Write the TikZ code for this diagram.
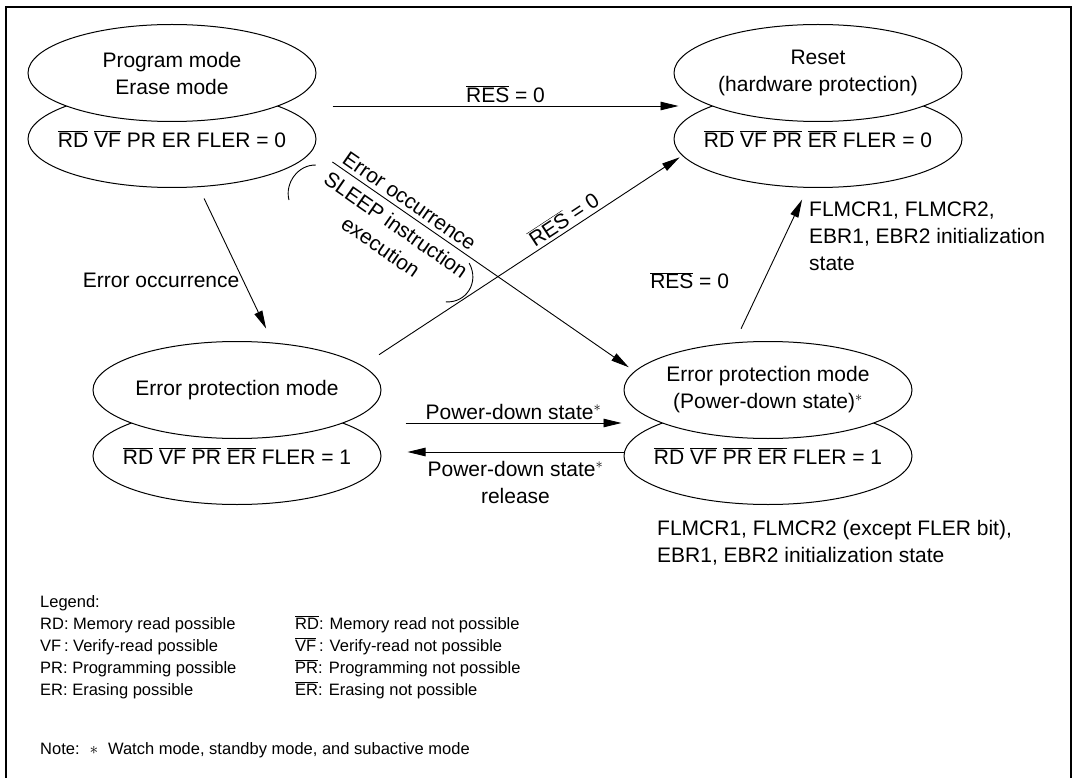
\documentclass[tikz,border=0pt]{standalone}
\usepackage{fontspec}
\setmainfont{Liberation Sans}
\usetikzlibrary{shapes.geometric,arrows.meta,calc}

\newcommand*{\inv}[1]{$\overline{\mbox{#1}}$}
\newcommand*{\pdast}{$^{\ast}$}

\begin{document}
\begin{tikzpicture}
[
	x=1pt, y=-1pt,
	mode/.style={ellipse,draw,line width=1pt,fill=white,minimum width=288pt,minimum height=97pt,inner sep=0pt,align=center},
	trans/.style={line width=0.9pt,-{Triangle[length=18pt,width=8.5pt]}},
	legend/.style={anchor=base west,inner sep=0pt,font=\fontsize{16.5}{22}\selectfont},
	font=\fontsize{21}{27}\selectfont
]
	\useasboundingbox (0,0) rectangle (1074,778);

	% frame
	\draw[line width=2.5pt] (6,800) -- (6,7) -- (1071,7) -- (1071,800);

	% states (bit rows first, the mode ellipses lie over them)
	\node[mode] (progbits) at (172,139) {\makebox[0pt]{\inv{RD} \inv{VF} PR ER FLER = 0}};
	\node[mode] (prog) at (172,73) {Program mode\\Erase mode};

	\node[mode] (resetbits) at (818,139) {\makebox[0pt]{\inv{RD} \inv{VF} \inv{PR} \inv{ER} FLER = 0}};
	\node[mode] (reset) at (818,73) {Reset\\(hardware protection)};

	\node[mode] (errprotbits) at (237,456) {\makebox[0pt]{\inv{RD} \inv{VF} \inv{PR} \inv{ER} FLER = 1}};
	\node[mode] (errprot) at (237,390) {Error protection mode};

	\node[mode] (pdownbits) at (768,456) {\makebox[0pt]{\inv{RD} \inv{VF} \inv{PR} \inv{ER} FLER = 1}};
	\node[mode] (pdown) at (768,390) {Error protection mode\\(Power-down state)\pdast};

	\coordinate (progside) at ($(prog.east)!.5!(progbits.east)$);
	\coordinate (resetside) at ($(reset.west)!.5!(resetbits.west)$);
	\coordinate (errside) at ($(errprot.east)!.5!(errprotbits.east)$);
	\coordinate (pdside) at ($(pdown.west)!.5!(pdownbits.west)$);

	% transitions
	\draw[trans] ([xshift=16pt]progside) -- ([xshift=5pt]resetside)
		node[midway,above] (restop) {\inv{RES} = 0};

	\draw[trans,shorten <=12.6pt,shorten >=15.5pt] (progbits.-61) -- (errprot.53)
		node[pos=0.6,left] (erroccl) {Error occurrence};

	\draw[trans,shorten <=20pt,shorten >=3pt] (errprot.11) -- (resetbits.187)
		node[pos=0.65,sloped,above] (resdiag) {\inv{RES} = 0};

	\draw[trans,shorten <=23pt,shorten >=7pt] (progbits.-4) -- coordinate[pos=0.059] (sleepref) (pdown.172);
	\begin{scope}[shift={(sleepref)},rotate=-34.8,transform shape]
		\node (errocc) at (85.5,-12) {Error occurrence};
		\node[align=center] (sleeptxt) at (88,28.5) {SLEEP instruction\\execution};
		\draw[line width=0.9pt] (-12,12) .. controls (-27,22) and (-27,45) .. (-14,56);
		\draw[line width=0.9pt] (170,5) .. controls (190,15) and (190,40) .. (173,50);
	\end{scope}

	\draw[trans,shorten <=15pt,shorten >=13pt] (pdown.125) -- (resetbits.-102)
		node[pos=0.4,left=31pt] (resright) {\inv{RES} = 0};

	\draw[trans] ([xshift=24pt]errside) -- ([xshift=-2pt]pdside)
		node[midway,above] (pdin) {Power-down state\pdast};
	\draw[trans] ([yshift=4pt]pdownbits.west) -- ([xshift=26pt,yshift=4pt]errprotbits.east)
		node[midway,below=5pt,align=center] (pdout) {Power-down state\pdast\\release};

	% register notes
	\node[anchor=west,align=left,inner sep=0pt] (rstinit) at (809,236)
		{FLMCR1, FLMCR2,\\EBR1, EBR2 initialization\\state};
	\node[anchor=west,align=left,inner sep=0pt] (pdinit) at (657,543)
		{FLMCR1, FLMCR2 (except FLER bit),\\EBR1, EBR2 initialization state};

	% legend
	\node[legend] (leghead) at (40,607) {Legend:};
	\foreach \y/\can/\cannot [count=\i] in {
		629/RD: Memory read possible/\inv{RD}: Memory read not possible,
		651/VF\,: Verify-read possible/\inv{VF}\,: Verify-read not possible,
		673/PR: Programming possible/\inv{PR}: Programming not possible,
		695/ER: Erasing possible/\inv{ER}: Erasing not possible} {
		\node[legend] (legcan\i) at (40,\y) {\can};
		\node[legend] (legcannot\i) at (295,\y) {\cannot};
	}
	\node[legend] (legnote) at (40,754)
		{Note:\hspace{0.6em}$\ast$\hspace{0.6em}Watch mode, standby mode, and subactive mode};

\end{tikzpicture}
\end{document}
